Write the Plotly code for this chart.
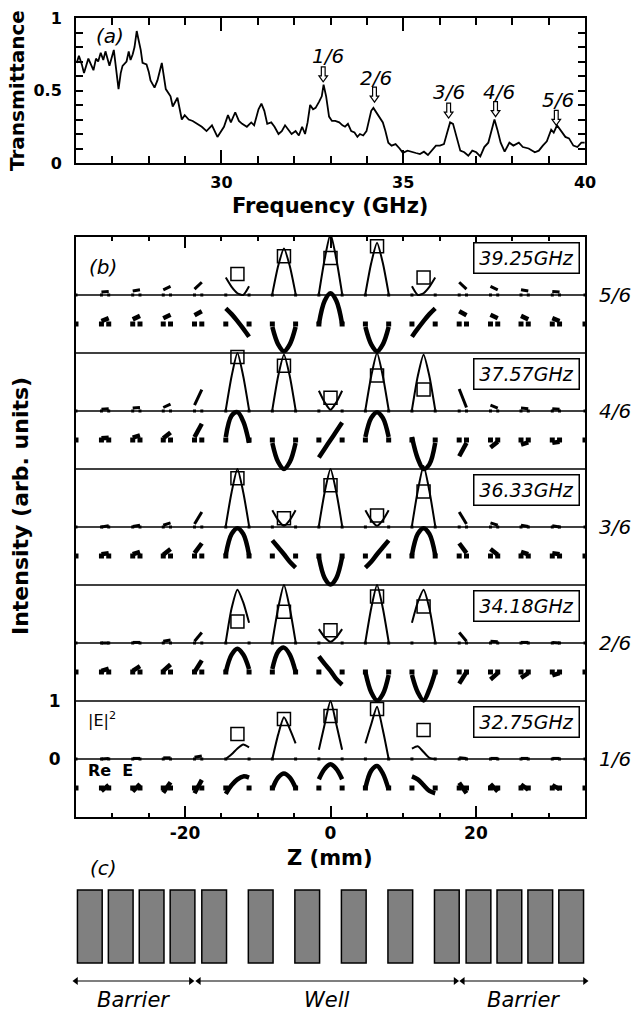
import plotly.graph_objects as go

W, H = 633, 1015
FONT = "DejaVu Sans"

# ---------------- (a) transmittance spectrum ----------------
FREQ_GHZ = [26.02, 26.08, 26.16, 26.22, 26.34, 26.48, 26.55, 26.61, 26.68, 26.75, 26.81, 26.92,
            27.04, 27.10, 27.17, 27.23, 27.28, 27.39, 27.45, 27.50, 27.56, 27.61, 27.67, 27.72,
            27.78, 27.83, 27.94, 28.00, 28.05, 28.16, 28.24, 28.36, 28.42, 28.47, 28.60, 28.66,
            28.79, 28.91, 28.99, 29.10, 29.21, 29.34, 29.46, 29.59, 29.74, 29.89, 30.07, 30.18,
            30.26, 30.38, 30.48, 30.57, 30.70, 30.82, 30.90, 31.02, 31.10, 31.18, 31.26, 31.37,
            31.46, 31.57, 31.66, 31.75, 31.85, 31.93, 32.04, 32.13, 32.22, 32.30, 32.37, 32.44,
            32.52, 32.59, 32.68, 32.76, 32.81, 32.88, 32.96, 33.04, 33.13, 33.24, 33.33, 33.40,
            33.48, 33.57, 33.66, 33.74, 33.81, 33.90, 33.99, 34.07, 34.12, 34.18, 34.26, 34.35,
            34.44, 34.51, 34.59, 34.68, 34.79, 34.90, 34.99, 35.12, 35.24, 35.35, 35.46, 35.57,
            35.68, 35.79, 35.90, 36.01, 36.12, 36.21, 36.29, 36.37, 36.46, 36.57, 36.68, 36.79,
            36.90, 37.01, 37.12, 37.23, 37.34, 37.43, 37.51, 37.59, 37.68, 37.79, 37.92, 38.03,
            38.18, 38.29, 38.45, 38.62, 38.73, 38.84, 38.95, 39.07, 39.14, 39.23, 39.34, 39.46,
            39.56, 39.68, 39.79, 39.90, 39.99]
TRANSMITTANCE = [0.69, 0.74, 0.68, 0.62, 0.72, 0.64, 0.72, 0.70, 0.76, 0.71, 0.77, 0.67,
                 0.78, 0.67, 0.51, 0.62, 0.67, 0.70, 0.77, 0.71, 0.75, 0.80, 0.91, 0.85,
                 0.78, 0.69, 0.68, 0.63, 0.57, 0.52, 0.57, 0.69, 0.60, 0.51, 0.46, 0.39,
                 0.45, 0.30, 0.33, 0.30, 0.29, 0.27, 0.25, 0.22, 0.26, 0.18, 0.25, 0.33,
                 0.28, 0.35, 0.29, 0.27, 0.25, 0.28, 0.26, 0.37, 0.41, 0.36, 0.27, 0.28,
                 0.25, 0.20, 0.22, 0.26, 0.23, 0.20, 0.22, 0.19, 0.25, 0.20, 0.28, 0.40,
                 0.37, 0.38, 0.42, 0.46, 0.54, 0.46, 0.32, 0.29, 0.29, 0.28, 0.26, 0.25,
                 0.27, 0.22, 0.21, 0.18, 0.20, 0.19, 0.22, 0.30, 0.36, 0.38, 0.35, 0.32,
                 0.28, 0.22, 0.14, 0.12, 0.13, 0.10, 0.07, 0.085, 0.074, 0.069, 0.062, 0.078,
                 0.055, 0.085, 0.12, 0.12, 0.13, 0.21, 0.28, 0.27, 0.19, 0.085, 0.074, 0.05,
                 0.085, 0.074, 0.046, 0.11, 0.14, 0.22, 0.30, 0.23, 0.14, 0.078, 0.14, 0.12,
                 0.14, 0.11, 0.10, 0.074, 0.085, 0.12, 0.15, 0.23, 0.21, 0.26, 0.22, 0.18,
                 0.17, 0.12, 0.11, 0.14, 0.14]
PEAK_LABELS = ["1/6", "2/6", "3/6", "4/6", "5/6"]
ARROW_F = [32.80, 34.21, 36.25, 37.54, 39.21]
ARROW_TIP = [0.56, 0.42, 0.31, 0.32, 0.26]
LABEL_F = [32.92, 34.26, 36.26, 37.63, 39.27]
LABEL_T = [0.735, 0.585, 0.49, 0.49, 0.435]

# ---------------- (b) field profiles (bottom -> top) ----------------
FREQ_LABELS = ["32.75GHz", "34.18GHz", "36.33GHz", "37.57GHz", "39.25GHz"]
ORDER_LABELS = ["1/6", "2/6", "3/6", "4/6", "5/6"]
WELL_Z = [[-14.4, -13.6, -12.8, -12.0, -11.2],
          [-8.0, -7.2, -6.4, -5.6, -4.8],
          [-1.6, -0.8, 0.0, 0.8, 1.6],
          [4.8, 5.6, 6.4, 7.2, 8.0],
          [11.2, 12.0, 12.8, 13.6, 14.4]]
BARRIER_Z = [[-31.5, -30.5], [-27.2, -26.2], [-23.0, -22.0], [-18.7, -17.7],
             [17.7, 18.7], [22.0, 23.0], [26.2, 27.2], [30.5, 31.5]]
SQUARE_Z = [-12.8, -6.4, 0.0, 6.4, 12.8]
EDGE_Z = [-35.0, 35.0]
Z_TICKS_LABELED = [-20, 0, 20]
Z_TICK_TEXT = ["-20", "0", "20"]
Z_TICKS_MEDIUM = [-30, -10, 10, 30]

# 32.75 GHz (1/6)
E2_WELL_1 = [[0.00, 0.08, 0.18, 0.25, 0.20], [0.00, 0.42, 0.72, 0.52, 0.27],
             [0.16, 0.60, 1.00, 0.60, 0.16], [0.27, 0.60, 0.90, 0.50, 0.00],
             [0.18, 0.22, 0.12, 0.02, 0.00]]
RE_WELL_1 = [[-0.10, 0.05, 0.15, 0.20, 0.18], [-0.02, 0.18, 0.25, 0.18, 0.00],
             [0.15, 0.33, 0.41, 0.33, 0.15], [0.00, 0.30, 0.38, 0.25, -0.03],
             [0.20, 0.15, 0.05, -0.05, -0.09]]
E2_BAR_1 = [[0.00, 0.01], [0.01, 0.01], [0.02, 0.02], [0.03, 0.05],
            [0.02, 0.01], [0.01, 0.01], [0.01, 0.01], [0.01, 0.01]]
RE_BAR_1 = [[-0.05, 0.05], [-0.06, 0.07], [-0.08, 0.10], [-0.09, 0.14],
            [0.09, -0.09], [0.07, -0.06], [0.06, -0.03], [0.05, -0.02]]
SQ_1 = [0.43, 0.69, 0.74, 0.86, 0.50]

# 34.18 GHz (2/6)
E2_WELL_2 = [[0.02, 0.60, 0.92, 0.70, 0.35], [0.02, 0.60, 1.00, 0.60, 0.02],
             [0.24, 0.10, 0.02, 0.10, 0.24], [0.02, 0.60, 1.00, 0.60, 0.02],
             [0.35, 0.70, 0.92, 0.60, 0.02]]
RE_WELL_2 = [[0.00, 0.30, 0.40, 0.30, 0.05], [0.05, 0.35, 0.42, 0.30, 0.00],
             [0.27, 0.14, 0.02, -0.12, -0.22], [0.00, -0.35, -0.49, -0.38, -0.05],
             [-0.05, -0.35, -0.49, -0.30, 0.00]]
E2_BAR_2 = [[0.00, 0.00], [0.01, 0.01], [0.03, 0.05], [0.03, 0.18],
            [0.18, 0.03], [0.03, 0.02], [0.01, 0.01], [0.01, 0.00]]
RE_BAR_2 = [[0.02, 0.06], [0.02, 0.10], [0.02, 0.13], [0.00, 0.20],
            [-0.20, 0.00], [-0.13, -0.02], [-0.10, -0.02], [-0.06, -0.02]]
SQ_2 = [0.37, 0.54, 0.22, 0.80, 0.63]

# 36.33 GHz (3/6)
E2_WELL_3 = [[0.02, 0.60, 1.00, 0.60, 0.02], [0.29, 0.12, 0.02, 0.12, 0.29],
             [0.02, 0.60, 1.00, 0.60, 0.02], [0.29, 0.12, 0.02, 0.12, 0.29],
             [0.02, 0.62, 1.05, 0.62, 0.02]]
RE_WELL_3 = [[0.02, 0.38, 0.48, 0.38, 0.02], [0.27, 0.15, 0.03, -0.10, -0.20],
             [-0.02, -0.38, -0.49, -0.38, -0.02], [-0.20, -0.10, 0.03, 0.15, 0.27],
             [0.02, 0.38, 0.48, 0.38, 0.02]]
E2_BAR_3 = [[0.00, 0.02], [0.01, 0.03], [0.03, 0.07], [0.05, 0.26],
            [0.26, 0.05], [0.07, 0.03], [0.03, 0.01], [0.02, 0.00]]
RE_BAR_3 = [[0.03, 0.05], [0.03, 0.07], [0.02, 0.12], [0.05, 0.22],
            [0.22, 0.05], [0.12, 0.02], [0.07, 0.03], [0.05, 0.03]]
SQ_3 = [0.84, 0.15, 0.72, 0.20, 0.61]

# 37.57 GHz (4/6)
E2_WELL_4 = [[0.02, 0.60, 1.00, 0.60, 0.02], [0.02, 0.60, 0.97, 0.60, 0.02],
             [0.35, 0.15, 0.02, 0.15, 0.35], [0.02, 0.60, 1.00, 0.60, 0.02],
             [0.02, 0.60, 0.97, 0.60, 0.02]]
RE_WELL_4 = [[0.05, 0.42, 0.48, 0.32, -0.05], [-0.05, -0.38, -0.50, -0.38, -0.05],
             [-0.30, -0.15, 0.00, 0.15, 0.30], [0.05, 0.38, 0.48, 0.38, 0.05],
             [0.05, -0.32, -0.50, -0.42, -0.05]]
E2_BAR_4 = [[0.03, 0.04], [0.05, 0.06], [0.06, 0.12], [0.10, 0.37],
            [0.38, 0.06], [0.10, 0.05], [0.05, 0.04], [0.04, 0.03]]
RE_BAR_4 = [[0.03, 0.04], [0.04, 0.08], [0.03, 0.13], [0.05, 0.28],
            [-0.28, -0.05], [-0.13, -0.03], [-0.08, -0.04], [-0.05, -0.03]]
SQ_4 = [0.93, 0.78, 0.23, 0.61, 0.37]

# 39.25 GHz (5/6)
E2_WELL_5 = [[0.30, 0.14, 0.03, 0.00, 0.15], [0.02, 0.50, 0.80, 0.50, 0.02],
             [0.02, 0.62, 1.05, 0.62, 0.02], [0.02, 0.55, 0.90, 0.55, 0.02],
             [0.15, 0.00, 0.03, 0.14, 0.30]]
RE_WELL_5 = [[0.27, 0.17, 0.05, -0.08, -0.22], [-0.05, -0.35, -0.47, -0.35, -0.05],
             [0.00, 0.40, 0.53, 0.40, 0.00], [-0.05, -0.35, -0.47, -0.35, -0.05],
             [-0.22, -0.08, 0.05, 0.17, 0.27]]
E2_BAR_5 = [[0.05, 0.06], [0.07, 0.09], [0.09, 0.15], [0.10, 0.22],
            [0.22, 0.10], [0.15, 0.09], [0.09, 0.07], [0.06, 0.05]]
RE_BAR_5 = [[0.05, 0.10], [0.08, 0.14], [0.10, 0.16], [0.15, 0.22],
            [0.22, 0.15], [0.16, 0.10], [0.14, 0.08], [0.10, 0.05]]
SQ_5 = [0.36, 0.67, 0.64, 0.84, 0.30]

E2_WELL = [E2_WELL_1, E2_WELL_2, E2_WELL_3, E2_WELL_4, E2_WELL_5]
RE_WELL = [RE_WELL_1, RE_WELL_2, RE_WELL_3, RE_WELL_4, RE_WELL_5]
E2_BAR = [E2_BAR_1, E2_BAR_2, E2_BAR_3, E2_BAR_4, E2_BAR_5]
RE_BAR = [RE_BAR_1, RE_BAR_2, RE_BAR_3, RE_BAR_4, RE_BAR_5]
SQ = [SQ_1, SQ_2, SQ_3, SQ_4, SQ_5]

# ---------------- (c) structure ----------------
LAYER_Z = [-33.1, -28.85, -24.6, -20.35, -16.0, -9.6, -3.2, 3.2, 9.6, 16.0, 20.35, 24.6, 28.85, 33.1]
LAYER_WIDTH = 3.4
SPAN_LABELS = ["Barrier", "Well", "Barrier"]
SPAN_FROM = [-35.0, -18.1, 18.2]
SPAN_TO = [-19.2, 17.2, 35.0]


def px(x):
    return x / W


def py(y):
    return 1 - y / H


XDOM = [px(76), px(585)]
fig = go.Figure()

# ---- panel (a)
fig.add_trace(go.Scatter(x=FREQ_GHZ, y=TRANSMITTANCE, mode="lines",
                         line=dict(color="black", width=1.8), xaxis="x", yaxis="y",
                         showlegend=False, hoverinfo="skip"))
PXF = 14.0 / 509
PXT = 1.0 / 145
for f, t in zip(ARROW_F, ARROW_TIP):
    hw, sw, hh, L = 4.3 * PXF, 1.9 * PXF, 6 * PXT, 15 * PXT
    path = (f"M {f},{t} L {f-hw},{t+hh} L {f-sw},{t+hh} L {f-sw},{t+L} "
            f"L {f+sw},{t+L} L {f+sw},{t+hh} L {f+hw},{t+hh} Z")
    fig.add_shape(type="path", path=path, xref="x", yref="y", fillcolor="white",
                  line=dict(color="black", width=1.2))
for lab, f, t in zip(PEAK_LABELS, LABEL_F, LABEL_T):
    fig.add_annotation(x=f, y=t, xref="x", yref="y", text=lab, showarrow=False,
                       xanchor="center", yanchor="middle",
                       font=dict(family=FONT, size=20, style="italic", color="black"))

# ---- panel (b)
for k in range(5):
    e0 = 2 * k + 1
    r0 = 2 * k + 0.5
    xs, ys, xr, yr = [], [], [], []
    for zs, ve, vr in zip(WELL_Z, E2_WELL[k], RE_WELL[k]):
        xs += zs + [None]
        ys += [e0 + v for v in ve] + [None]
        xr += zs + [None]
        yr += [r0 + v for v in vr] + [None]
    fig.add_trace(go.Scatter(x=xs, y=ys, mode="lines", xaxis="x2", yaxis="y2",
                             line=dict(color="black", width=2, shape="spline", smoothing=0.6),
                             showlegend=False, hoverinfo="skip"))
    fig.add_trace(go.Scatter(x=xr, y=yr, mode="lines", xaxis="x2", yaxis="y2",
                             line=dict(color="black", width=4.5, shape="spline", smoothing=1.0),
                             showlegend=False, hoverinfo="skip"))
    xb, yb, xbr, ybr = [], [], [], []
    for zs, ve, vr in zip(BARRIER_Z, E2_BAR[k], RE_BAR[k]):
        xb += zs + [None]
        yb += [e0 + v for v in ve] + [None]
        xbr += zs + [None]
        ybr += [r0 + v for v in vr] + [None]
    fig.add_trace(go.Scatter(x=xb, y=yb, mode="lines", xaxis="x2", yaxis="y2",
                             line=dict(color="black", width=3),
                             showlegend=False, hoverinfo="skip"))
    fig.add_trace(go.Scatter(x=xbr, y=ybr, mode="lines", xaxis="x2", yaxis="y2",
                             line=dict(color="black", width=4.5),
                             showlegend=False, hoverinfo="skip"))
    dz = [z for g in WELL_Z for z in (g[0], g[-1])] + [z for g in BARRIER_Z for z in g] + EDGE_Z
    fig.add_trace(go.Scatter(x=dz, y=[r0] * len(dz), mode="markers", xaxis="x2", yaxis="y2",
                             marker=dict(symbol="square", size=5, color="black"),
                             showlegend=False, hoverinfo="skip"))
    fig.add_trace(go.Scatter(x=dz, y=[e0] * len(dz), mode="markers", xaxis="x2", yaxis="y2",
                             marker=dict(symbol="square", size=3, color="black"),
                             showlegend=False, hoverinfo="skip"))
    fig.add_trace(go.Scatter(x=SQUARE_Z, y=[e0 + v for v in SQ[k]], mode="markers",
                             xaxis="x2", yaxis="y2",
                             marker=dict(symbol="square-open", size=13, color="black",
                                         line=dict(width=1.5, color="black")),
                             showlegend=False, hoverinfo="skip"))
    fig.add_shape(type="line", xref="x2 domain", yref="y2", x0=0, x1=1, y0=e0, y1=e0,
                  line=dict(color="black", width=1.3))
    if k < 4:
        fig.add_shape(type="line", xref="x2 domain", yref="y2", x0=0, x1=1,
                      y0=2 * k + 2, y1=2 * k + 2, line=dict(color="black", width=1.5))
    fig.add_annotation(x=px(580), xref="paper", xanchor="right", y=2 * k + 2 - 0.09, yref="y2",
                       yanchor="top", text=FREQ_LABELS[k], showarrow=False,
                       font=dict(family=FONT, size=19, style="italic", color="black"),
                       bordercolor="black", borderwidth=1.5, borderpad=3.5, bgcolor="white",
                       width=97)
    fig.add_annotation(x=px(597), xref="paper", xanchor="left", y=e0, yref="y2",
                       yanchor="middle", text=ORDER_LABELS[k], showarrow=False,
                       font=dict(family=FONT, size=20, style="italic", color="black"))

fig.add_annotation(x=-33.6, xref="x2", xanchor="left", y=1.68, yref="y2", yanchor="middle",
                   text="|E|<sup>2</sup>", showarrow=False,
                   font=dict(family=FONT, size=16, color="black"))
fig.add_annotation(x=-33.6, xref="x2", xanchor="left", y=0.8, yref="y2", yanchor="middle",
                   text="Re  E", showarrow=False,
                   font=dict(family=FONT, size=16, weight="bold", color="black"))

# ---- panel (c)
for zc in LAYER_Z:
    fig.add_shape(type="rect", xref="x2", yref="paper", x0=zc - LAYER_WIDTH / 2,
                  x1=zc + LAYER_WIDTH / 2, y0=py(963), y1=py(890),
                  fillcolor="#808080", line=dict(color="black", width=1.5))
for lab, z0, z1 in zip(SPAN_LABELS, SPAN_FROM, SPAN_TO):
    fig.add_trace(go.Scatter(x=[z0, z1], y=[981, 981], mode="lines+markers",
                             xaxis="x2", yaxis="y3",
                             line=dict(color="black", width=1.2),
                             marker=dict(symbol=["triangle-left", "triangle-right"], size=7,
                                         color="black"),
                             showlegend=False, hoverinfo="skip", cliponaxis=False))
    fig.add_annotation(x=(z0 + z1) / 2, y=1000, xref="x2", yref="y3", text=lab,
                       showarrow=False, xanchor="center", yanchor="middle",
                       font=dict(family=FONT, size=21, style="italic", color="black"))

# ---- panel letters and axis titles
for lab, x, y in [("(a)", 110, 36), ("(b)", 103, 267), ("(c)", 103, 868)]:
    fig.add_annotation(x=px(x), y=py(y), xref="paper", yref="paper", text=lab,
                       xanchor="center", yanchor="middle", showarrow=False,
                       font=dict(family=FONT, size=20, style="italic", color="black"))
TITLE_FONT = dict(family=FONT, size=21, weight="bold", color="black")
fig.add_annotation(x=px(17), y=py(91), xref="paper", yref="paper", text="Transmittance",
                   xanchor="center", yanchor="middle", textangle=-90, showarrow=False,
                   font=dict(family=FONT, size=20, weight="bold", color="black"))
fig.add_annotation(x=px(330), y=py(206), xref="paper", yref="paper", text="Frequency (GHz)",
                   xanchor="center", yanchor="middle", showarrow=False, font=TITLE_FONT)
fig.add_annotation(x=px(20), y=py(506), xref="paper", yref="paper", text="Intensity (arb. units)",
                   xanchor="center", yanchor="middle", textangle=-90, showarrow=False,
                   font=dict(family=FONT, size=22, weight="bold", color="black"))
fig.add_annotation(x=px(330), y=py(858), xref="paper", yref="paper", text="Z (mm)",
                   xanchor="center", yanchor="middle", showarrow=False, font=TITLE_FONT)

TICKFONT = dict(family=FONT, size=16, weight="bold", color="black")
common = dict(showline=True, linecolor="black", linewidth=2, showgrid=False, zeroline=False,
              automargin=False, tickcolor="black", tickwidth=1.5, fixedrange=True)
fig.update_layout(
    width=W, height=H, margin=dict(l=0, r=0, t=0, b=0), template="none",
    paper_bgcolor="white", plot_bgcolor="white", font=dict(family=FONT, color="black"),
    showlegend=False,
    xaxis=dict(domain=XDOM, anchor="y", range=[26, 40], tickvals=[30, 35, 40], ticks="inside",
               ticklen=13, mirror="ticks", tickfont=TICKFONT, ticklabelstandoff=4,
               minor=dict(dtick=1, tick0=26, ticks="inside", ticklen=7, tickwidth=1.5, tickcolor="black"),
               **common),
    yaxis=dict(domain=[py(163), py(18)], anchor="x", range=[0, 1], tickvals=[0, 0.5, 1],
               ticktext=["0", "0.5", "1"], ticks="inside", ticklen=7, mirror="ticks",
               tickfont=TICKFONT, ticklabelstandoff=9,
               minor=dict(dtick=0.1, tick0=0, ticks="inside", ticklen=7, tickwidth=1.5, tickcolor="black"),
               **common),
    xaxis2=dict(domain=XDOM, anchor="y2", range=[-35, 35],
                tickvals=Z_TICKS_LABELED, ticktext=Z_TICK_TEXT, ticks="inside", ticklen=11,
                mirror="ticks",
                tickfont=dict(family=FONT, size=17, weight="bold", color="black"),
                ticklabelstandoff=0,
                minor=dict(dtick=5, tick0=0, ticks="inside", ticklen=4, tickwidth=1.5, tickcolor="black"),
                **common),
    xaxis3=dict(domain=XDOM, anchor="y2", overlaying="x2", range=[-35, 35],
                tickvals=Z_TICKS_MEDIUM, ticks="inside", ticklen=7, tickwidth=1.5,
                tickcolor="black", mirror="ticks", showline=False, showgrid=False,
                zeroline=False, showticklabels=False, fixedrange=True),
    yaxis2=dict(domain=[py(817), py(237)], anchor="x2", range=[0, 10], tickvals=[1, 2],
                ticktext=["0", "1"], mirror=True, ticks="",
                tickfont=dict(family=FONT, size=17, weight="bold", color="black"),
                ticklabelstandoff=10, **common),
    yaxis3=dict(domain=[0, py(880)], anchor="free", position=0, range=[1015, 880],
                visible=False, fixedrange=True),
)
fig.write_html("out.html", config={"displayModeBar": False},
               post_script="document.body.style.margin='0px';document.body.style.overflow='hidden';")
